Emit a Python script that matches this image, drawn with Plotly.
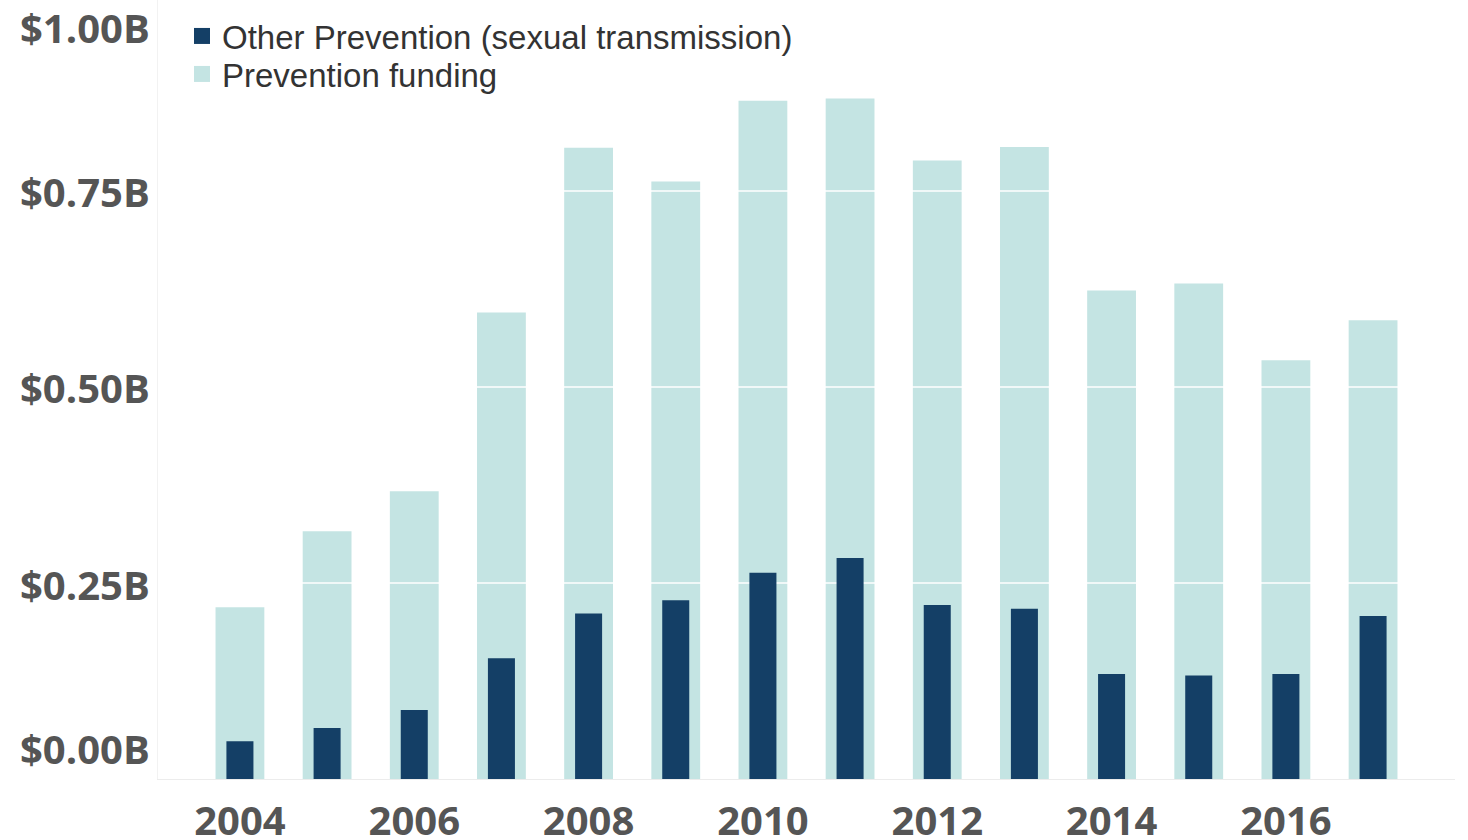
import plotly.graph_objects as go

# Annual funding, billions of USD
years = list(range(2004, 2018))
prevention_funding = [0.219, 0.316, 0.367, 0.595, 0.805, 0.762, 0.865,
                      0.868, 0.789, 0.806, 0.623, 0.632, 0.534, 0.585]
other_prevention = [0.048, 0.065, 0.088, 0.154, 0.211, 0.228, 0.263,
                    0.282, 0.222, 0.217, 0.134, 0.132, 0.134, 0.208]

x_tick_years = [2004, 2006, 2008, 2010, 2012, 2014, 2016]
y_tick_values = [0.0, 0.25, 0.50, 0.75, 1.00]
y_tick_labels = ["$0.00B", "$0.25B", "$0.50B", "$0.75B", "$1.00B"]

LIGHT = "#c4e4e3"
DARK = "#143f66"
TICK_GREY = "#555555"
X_RANGE = [2003.06, 2017.94]
Y_RANGE = [0, 0.9936]

fig = go.Figure()

# wide pale bars: total prevention funding
fig.add_trace(go.Bar(
    x=years, y=prevention_funding, width=0.56,
    marker=dict(color=LIGHT, line=dict(width=0)),
    showlegend=False, hoverinfo="skip",
))

# white gridlines sit on top of the pale bars but beneath the dark ones
grid_x, grid_y = [], []
for v in y_tick_values[1:-1]:
    grid_x += [X_RANGE[0], X_RANGE[1], None]
    grid_y += [v, v, None]
fig.add_trace(go.Scatter(
    x=grid_x, y=grid_y, mode="lines",
    line=dict(color="#ffffff", width=1.3),
    showlegend=False, hoverinfo="skip",
))

# narrow dark bars on an overlaid subplot so they draw above the gridlines
fig.add_trace(go.Bar(
    x=years, y=other_prevention, width=0.31,
    marker=dict(color=DARK, line=dict(width=0)),
    xaxis="x2", yaxis="y2",
    showlegend=False, hoverinfo="skip",
))

# legend entries
fig.add_trace(go.Scatter(
    x=[None], y=[None], mode="markers",
    marker=dict(symbol="square", size=16, color=DARK),
    name="Other Prevention (sexual transmission)", legend="legend",
))
fig.add_trace(go.Scatter(
    x=[None], y=[None], mode="markers",
    marker=dict(symbol="square", size=16, color=LIGHT),
    name="Prevention funding", legend="legend2",
))

legend_font = dict(family="Liberation Sans, Arial, sans-serif", size=33, color="#333333")
legend_common = dict(
    xref="container", yref="container", xanchor="left", yanchor="top",
    bgcolor="rgba(0,0,0,0)", borderwidth=0, font=legend_font,
    itemsizing="trace",
)

# y tick labels; the end labels are kept inside the plotting area
tick_font = dict(family="Open Sans", size=40, color=TICK_GREY, weight=700)
annotations = []
for v, t in zip(y_tick_values, y_tick_labels):
    ann = dict(x=0, xref="paper", xanchor="right", xshift=-6,
               text=t, showarrow=False, font=tick_font)
    if v == y_tick_values[-1]:
        ann.update(y=1, yref="y domain", yanchor="top", yshift=2)
    elif v == y_tick_values[0]:
        ann.update(y=v, yref="y", yanchor="bottom", yshift=1)
    else:
        ann.update(y=v, yref="y", yanchor="middle", yshift=-1)
    annotations.append(ann)

fig.update_layout(
    width=1468, height=840,
    margin=dict(l=158, r=13, t=0, b=61, autoexpand=False),
    paper_bgcolor="white", plot_bgcolor="white",
    barmode="overlay",
    xaxis=dict(
        range=X_RANGE, tickmode="array", tickvals=x_tick_years,
        ticktext=[str(y) for y in x_tick_years], tickangle=0,
        showgrid=False, zeroline=False, automargin=False,
        showline=True, linecolor="#ececec", linewidth=1,
        ticks="", ticklabelstandoff=7,
        tickfont=tick_font,
    ),
    yaxis=dict(
        range=Y_RANGE, showticklabels=False, showgrid=False, zeroline=False,
        showline=True, linecolor="#f2f2f2", linewidth=1, ticks="", automargin=False,
    ),
    xaxis2=dict(range=X_RANGE, overlaying="x", visible=False),
    yaxis2=dict(range=Y_RANGE, overlaying="y", visible=False),
    legend=dict(x=182 / 1468, y=1 - 8 / 840, **legend_common),
    legend2=dict(x=182 / 1468, y=1 - 46 / 840, **legend_common),
    annotations=annotations,
)

fig.write_html("out.html")
